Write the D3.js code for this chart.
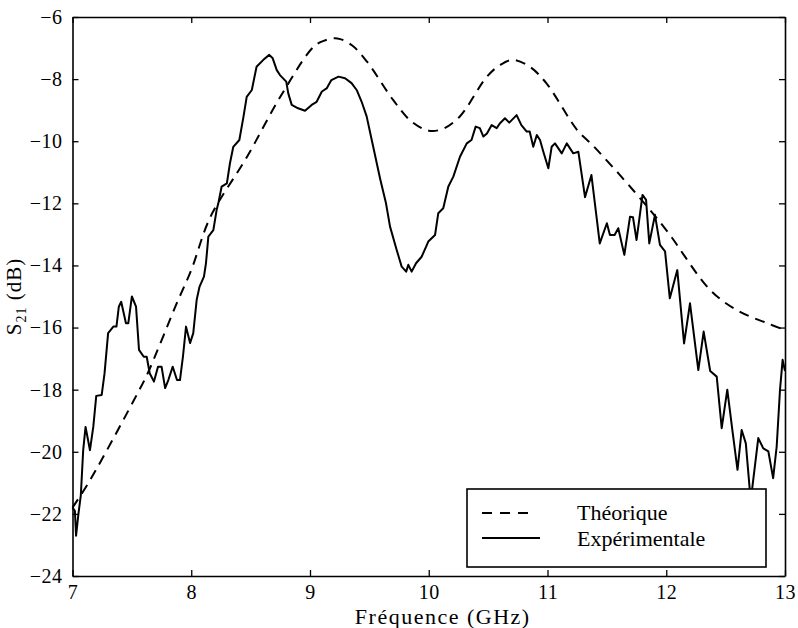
<!DOCTYPE html>
<html lang="en">
<head>
<meta charset="UTF-8">
<title>S21</title>
<script src="https://d3js.org/d3.v7.min.js"></script>
<style>
  body { margin: 0; background: #fff; }
  text { font-family: "Liberation Serif", "Times New Roman", serif; fill: #000; }
</style>
</head>
<body>
<svg id="chart" width="798" height="628"></svg>
<script>
  // frequency (GHz) / S21 (dB)
  var theoFreq = [7.0, 7.15, 7.55, 7.63, 7.88, 8.0, 8.16, 8.47, 8.75, 9.03, 9.12, 9.23, 9.35, 9.48, 9.70, 9.85,
    10.0, 10.12, 10.26, 10.49, 10.6, 10.71, 10.85, 10.99, 11.25, 11.39, 11.72, 12.0, 12.37, 12.6, 12.85, 13.0];
  var theoVal = [-21.8, -20.9, -18.1, -17.5, -15.2, -14.15, -12.45, -10.5, -8.57, -6.96, -6.76, -6.69, -6.9, -7.44, -8.67, -9.35,
    -9.66, -9.6, -9.21, -7.92, -7.55, -7.38, -7.6, -8.13, -9.64, -10.17, -11.57, -12.86, -14.79, -15.45, -15.86, -16.08];

  var expFreq = [7.00, 7.02, 7.03, 7.05, 7.07, 7.09, 7.11, 7.147, 7.175, 7.20, 7.246, 7.27, 7.30, 7.344, 7.37, 7.39, 7.41,
    7.45, 7.47, 7.50, 7.535, 7.56, 7.60, 7.625, 7.65, 7.686, 7.72, 7.75, 7.78, 7.807, 7.844, 7.88, 7.905, 7.93, 7.956,
    7.99, 8.017, 8.046, 8.07, 8.107, 8.124, 8.144, 8.186, 8.214, 8.228, 8.256, 8.30, 8.326, 8.354, 8.405, 8.44, 8.467,
    8.51, 8.55, 8.607, 8.657, 8.686, 8.72, 8.747, 8.80, 8.817, 8.846, 8.90, 8.958, 9.014, 9.056, 9.10, 9.14, 9.18,
    9.24, 9.295, 9.35, 9.393, 9.435, 9.477, 9.52, 9.59, 9.64, 9.674, 9.73, 9.772, 9.81, 9.828, 9.856, 9.893, 9.94,
    9.977, 9.996, 10.053, 10.08, 10.122, 10.165, 10.207, 10.263, 10.32, 10.36, 10.395, 10.43, 10.46, 10.49, 10.53,
    10.572, 10.60, 10.642, 10.678, 10.74, 10.78, 10.825, 10.85, 10.88, 10.91, 10.937, 10.965, 11.007, 11.035, 11.063,
    11.12, 11.162, 11.217, 11.26, 11.316, 11.37, 11.44, 11.50, 11.526, 11.565, 11.596, 11.647, 11.695, 11.72, 11.75,
    11.80, 11.83, 11.857, 11.905, 11.947, 11.99, 12.03, 12.093, 12.15, 12.20, 12.27, 12.315, 12.37, 12.425, 12.467,
    12.514, 12.56, 12.60, 12.635, 12.67, 12.705, 12.72, 12.775, 12.817, 12.86, 12.90, 12.93, 12.958, 12.98, 13.0];
  var expVal = [-21.8, -21.9, -22.7, -22.0, -21.4, -19.95, -19.2, -19.95, -19.2, -18.2, -18.17, -17.47, -16.18, -15.97, -15.97, -15.33, -15.17,
    -15.86, -15.86, -15.0, -15.33, -16.72, -16.94, -16.94, -17.47, -17.74, -17.26, -17.26, -17.95, -17.69, -17.26, -17.69, -17.69, -16.94, -15.97,
    -16.5, -16.18, -15.1, -14.68, -14.36, -13.93, -13.07, -12.86, -12.21, -12.0, -11.46, -11.36, -10.71, -10.18, -9.96, -9.21, -8.57,
    -8.35, -7.6, -7.38, -7.22, -7.33, -7.71, -7.87, -8.08, -8.46, -8.83, -8.94, -9.02, -8.83, -8.73, -8.4, -8.3, -8.03,
    -7.92, -7.97, -8.13, -8.35, -8.73, -9.2, -9.96, -11.2, -12.0, -12.75, -13.5, -14.04, -14.2, -13.98, -14.2, -13.93, -13.72,
    -13.4, -13.23, -13.02, -12.32, -12.16, -11.46, -11.14, -10.5, -10.07, -9.96, -9.53, -9.58, -9.85, -9.75, -9.48,
    -9.58, -9.42, -9.26, -9.4, -9.16, -9.48, -9.69, -9.69, -10.18, -9.8, -9.96, -10.34, -10.87, -10.18, -10.07,
    -10.39, -10.07, -10.39, -10.34, -11.8, -11.09, -13.29, -12.64, -13.02, -13.02, -12.8, -13.66, -12.43, -12.45, -13.18,
    -11.73, -11.89, -13.29, -12.37, -13.34, -13.55, -15.06, -14.15, -16.51, -15.22, -17.37, -16.13, -17.4, -17.58, -19.24,
    -18.0, -19.4, -20.58, -19.3, -19.73, -21.3, -21.3, -19.56, -19.89, -19.99, -20.85, -19.83, -18.0, -17.04, -17.4];

  var xTicks = [7, 8, 9, 10, 11, 12, 13];
  var yTicks = [-24, -22, -20, -18, -16, -14, -12, -10, -8, -6];
  var legendLabels = ["Théorique", "Expérimentale"];

  var svg = d3.select("#chart");
  // plot frame in pixels
  var pL = 72.5, pR = 785, pT = 17, pB = 576;

  var x = d3.scaleLinear().domain([7, 13]).range([pL, pR]);
  var y = d3.scaleLinear().domain([-24, -6]).range([pB, pT]);

  var theo = theoFreq.map(function (f, i) { return [f, theoVal[i]]; });
  var exp = expFreq.map(function (f, i) { return [f, expVal[i]]; });

  // axes, ticks pointing inwards on all four sides
  var fontSize = 20;
  var bAxis = svg.append("g").attr("transform", "translate(0," + pB + ")")
    .call(d3.axisBottom(x).tickValues(xTicks).tickSize(-6).tickSizeOuter(0).tickPadding(9).tickFormat(d3.format("d")));
  var tAxis = svg.append("g").attr("transform", "translate(0," + pT + ")")
    .call(d3.axisTop(x).tickValues(xTicks).tickSize(-6).tickSizeOuter(0).tickFormat(""));
  var lAxis = svg.append("g").attr("transform", "translate(" + pL + ",0)")
    .call(d3.axisLeft(y).tickValues(yTicks).tickSize(-6).tickSizeOuter(0).tickPadding(10)
      .tickFormat(function (d) { return d3.format("d")(d).replace("-", "\u2212"); }));
  var rAxis = svg.append("g").attr("transform", "translate(" + pR + ",0)")
    .call(d3.axisRight(y).tickValues(yTicks).tickSize(-6).tickSizeOuter(0).tickFormat(""));

  [bAxis, tAxis, lAxis, rAxis].forEach(function (a) {
    a.select(".domain").attr("stroke", "#000").attr("stroke-width", 1.6);
    a.selectAll(".tick line").attr("stroke", "#000").attr("stroke-width", 1.3);
    a.selectAll(".tick text").attr("font-family", "Liberation Serif").attr("font-size", fontSize)
      .attr("fill", "#000").attr("letter-spacing", 0.5);
  });

  var line = d3.line().x(function (d) { return x(d[0]); }).y(function (d) { return y(d[1]); });

  svg.append("path").datum(theo)
    .attr("d", line.curve(d3.curveCatmullRom.alpha(0.5)))
    .attr("fill", "none").attr("stroke", "#000").attr("stroke-width", 2)
    .attr("stroke-dasharray", "10,7");

  svg.append("path").datum(exp)
    .attr("d", line.curve(d3.curveLinear))
    .attr("fill", "none").attr("stroke", "#000").attr("stroke-width", 2)
    .attr("stroke-linejoin", "round");

  // axis titles
  svg.append("text")
    .attr("x", (pL + pR) / 2 + 14).attr("y", 624)
    .attr("text-anchor", "middle").attr("font-size", 22).attr("letter-spacing", 1.5)
    .text("Fréquence (GHz)");

  var yl = svg.append("text")
    .attr("transform", "translate(21," + ((pT + pB) / 2) + ") rotate(-90)")
    .attr("text-anchor", "middle").attr("font-size", 21).attr("letter-spacing", 1);
  yl.append("tspan").text("S");
  yl.append("tspan").attr("font-size", 14).attr("dy", 5).text("21");
  yl.append("tspan").attr("dy", -5).text(" (dB)");

  // legend
  var lg = svg.append("g");
  lg.append("rect").attr("x", 467).attr("y", 489).attr("width", 299).attr("height", 78)
    .attr("fill", "#fff").attr("stroke", "#000").attr("stroke-width", 1.6);
  lg.append("line").attr("x1", 482).attr("x2", 532).attr("y1", 513).attr("y2", 513)
    .attr("stroke", "#000").attr("stroke-width", 2).attr("stroke-dasharray", "10,8");
  lg.append("line").attr("x1", 482).attr("x2", 540).attr("y1", 538).attr("y2", 538)
    .attr("stroke", "#000").attr("stroke-width", 2);
  lg.selectAll("text.lbl").data(legendLabels).enter().append("text")
    .attr("class", "lbl")
    .attr("x", 577).attr("y", function (d, i) { return 520 + i * 26; })
    .attr("font-size", 22)
    .text(function (d) { return d; });
</script>
</body>
</html>
